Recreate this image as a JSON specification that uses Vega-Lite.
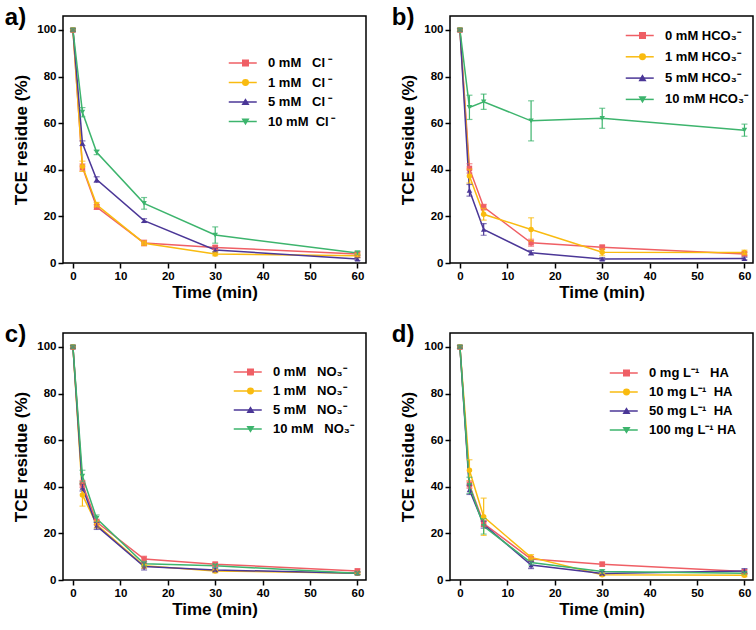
{
  "$schema": "https://vega.github.io/schema/vega-lite/v6.json",
  "padding": {"left": 4, "top": 5, "right": 0, "bottom": 0},
  "background": "white",
  "config": {
    "font": "Liberation Sans",
    "view": {"stroke": "black", "strokeWidth": 1.5},
    "axis": {"domain": false, "grid": false, "tickColor": "black", "tickWidth": 1.5, "tickSize": 5, "labelFont": "Liberation Sans", "labelFontSize": 11.5, "labelFontWeight": "bold", "labelColor": "black", "labelPadding": 2, "titleFont": "Liberation Sans", "titleFontSize": 17, "titleFontWeight": "bold", "titleColor": "black"},
    "axisX": {"titlePadding": 3},
    "axisY": {"titlePadding": 6},
    "title": {"font": "Liberation Sans", "fontSize": 24, "fontWeight": "bold", "color": "black", "anchor": "start", "frame": "bounds", "offset": 0, "dx": -8, "dy": 18},
    "legend": {"orient": "none", "title": null, "labelFont": "Liberation Sans", "labelFontSize": 13, "labelFontWeight": "bold", "labelColor": "black", "symbolStrokeWidth": 1.5, "padding": 0}
  },
  "datasets": {
    "a": [
      {"s": "\u20050 mM\u00a0\u00a0 Cl\u2009\u207b", "t": 0, "y": 100, "e": 0.5},
      {"s": "\u20050 mM\u00a0\u00a0 Cl\u2009\u207b", "t": 2, "y": 41, "e": 1.5},
      {"s": "\u20050 mM\u00a0\u00a0 Cl\u2009\u207b", "t": 5, "y": 24, "e": 1},
      {"s": "\u20050 mM\u00a0\u00a0 Cl\u2009\u207b", "t": 15, "y": 8.6, "e": 1.2},
      {"s": "\u20050 mM\u00a0\u00a0 Cl\u2009\u207b", "t": 30, "y": 6.7, "e": 0.8},
      {"s": "\u20050 mM\u00a0\u00a0 Cl\u2009\u207b", "t": 60, "y": 3.9, "e": 0.8},
      {"s": "\u20051 mM\u00a0\u00a0 Cl\u2009\u207b", "t": 0, "y": 100, "e": 0.5},
      {"s": "\u20051 mM\u00a0\u00a0 Cl\u2009\u207b", "t": 2, "y": 41.5, "e": 2.2},
      {"s": "\u20051 mM\u00a0\u00a0 Cl\u2009\u207b", "t": 5, "y": 25, "e": 1},
      {"s": "\u20051 mM\u00a0\u00a0 Cl\u2009\u207b", "t": 15, "y": 8.5, "e": 1},
      {"s": "\u20051 mM\u00a0\u00a0 Cl\u2009\u207b", "t": 30, "y": 3.9, "e": 0.8},
      {"s": "\u20051 mM\u00a0\u00a0 Cl\u2009\u207b", "t": 60, "y": 3.1, "e": 0.8},
      {"s": "\u20055 mM\u00a0\u00a0 Cl\u2009\u207b", "t": 0, "y": 100, "e": 0.5},
      {"s": "\u20055 mM\u00a0\u00a0 Cl\u2009\u207b", "t": 2, "y": 51.4, "e": 1},
      {"s": "\u20055 mM\u00a0\u00a0 Cl\u2009\u207b", "t": 5, "y": 35.8, "e": 1.2},
      {"s": "\u20055 mM\u00a0\u00a0 Cl\u2009\u207b", "t": 15, "y": 18.2, "e": 0.8},
      {"s": "\u20055 mM\u00a0\u00a0 Cl\u2009\u207b", "t": 30, "y": 5.6, "e": 0.8},
      {"s": "\u20055 mM\u00a0\u00a0 Cl\u2009\u207b", "t": 60, "y": 1.7, "e": 0.6},
      {"s": "10 mM\u00a0 Cl\u2009\u207b", "t": 0, "y": 100, "e": 0.5},
      {"s": "10 mM\u00a0 Cl\u2009\u207b", "t": 2, "y": 64.7, "e": 2},
      {"s": "10 mM\u00a0 Cl\u2009\u207b", "t": 5, "y": 47.5, "e": 1},
      {"s": "10 mM\u00a0 Cl\u2009\u207b", "t": 15, "y": 25.6, "e": 2.5},
      {"s": "10 mM\u00a0 Cl\u2009\u207b", "t": 30, "y": 12, "e": 3.5},
      {"s": "10 mM\u00a0 Cl\u2009\u207b", "t": 60, "y": 4.3, "e": 0.8}
    ],
    "b": [
      {"s": "\u20070 mM HCO\u2083\u207b", "t": 0, "y": 100, "e": 0.5},
      {"s": "\u20070 mM HCO\u2083\u207b", "t": 2, "y": 40.6, "e": 2},
      {"s": "\u20070 mM HCO\u2083\u207b", "t": 5, "y": 24, "e": 1.2},
      {"s": "\u20070 mM HCO\u2083\u207b", "t": 15, "y": 8.7, "e": 1.5},
      {"s": "\u20070 mM HCO\u2083\u207b", "t": 30, "y": 6.8, "e": 0.8},
      {"s": "\u20070 mM HCO\u2083\u207b", "t": 60, "y": 3.9, "e": 0.8},
      {"s": "\u20071 mM HCO\u2083\u207b", "t": 0, "y": 100, "e": 0.5},
      {"s": "\u20071 mM HCO\u2083\u207b", "t": 2, "y": 37.3, "e": 3},
      {"s": "\u20071 mM HCO\u2083\u207b", "t": 5, "y": 20.9, "e": 2.5},
      {"s": "\u20071 mM HCO\u2083\u207b", "t": 15, "y": 14.4, "e": 5},
      {"s": "\u20071 mM HCO\u2083\u207b", "t": 30, "y": 4.6, "e": 1.5},
      {"s": "\u20071 mM HCO\u2083\u207b", "t": 60, "y": 4.5, "e": 1},
      {"s": "\u20075 mM HCO\u2083\u207b", "t": 0, "y": 100, "e": 0.5},
      {"s": "\u20075 mM HCO\u2083\u207b", "t": 2, "y": 31.2, "e": 2.5},
      {"s": "\u20075 mM HCO\u2083\u207b", "t": 5, "y": 14.4, "e": 2.5},
      {"s": "\u20075 mM HCO\u2083\u207b", "t": 15, "y": 4.4, "e": 1},
      {"s": "\u20075 mM HCO\u2083\u207b", "t": 30, "y": 1.7, "e": 0.6},
      {"s": "\u20075 mM HCO\u2083\u207b", "t": 60, "y": 1.9, "e": 0.6},
      {"s": "10 mM HCO\u2083\u207b", "t": 0, "y": 100, "e": 0.5},
      {"s": "10 mM HCO\u2083\u207b", "t": 2, "y": 66.8, "e": 5.2},
      {"s": "10 mM HCO\u2083\u207b", "t": 5, "y": 69.2, "e": 3.3},
      {"s": "10 mM HCO\u2083\u207b", "t": 15, "y": 61, "e": 8.6},
      {"s": "10 mM HCO\u2083\u207b", "t": 30, "y": 62.1, "e": 4.3},
      {"s": "10 mM HCO\u2083\u207b", "t": 60, "y": 57, "e": 2.6}
    ],
    "c": [
      {"s": "\u20070 mM\u00a0\u00a0 NO\u2083\u207b", "t": 0, "y": 100, "e": 0.5},
      {"s": "\u20070 mM\u00a0\u00a0 NO\u2083\u207b", "t": 2, "y": 41.2, "e": 1.5},
      {"s": "\u20070 mM\u00a0\u00a0 NO\u2083\u207b", "t": 5, "y": 24.9, "e": 1.2},
      {"s": "\u20070 mM\u00a0\u00a0 NO\u2083\u207b", "t": 15, "y": 9, "e": 1.2},
      {"s": "\u20070 mM\u00a0\u00a0 NO\u2083\u207b", "t": 30, "y": 6.8, "e": 0.8},
      {"s": "\u20070 mM\u00a0\u00a0 NO\u2083\u207b", "t": 60, "y": 3.9, "e": 0.8},
      {"s": "\u20071 mM\u00a0\u00a0 NO\u2083\u207b", "t": 0, "y": 100, "e": 0.5},
      {"s": "\u20071 mM\u00a0\u00a0 NO\u2083\u207b", "t": 2, "y": 36.5, "e": 4.8},
      {"s": "\u20071 mM\u00a0\u00a0 NO\u2083\u207b", "t": 5, "y": 23.8, "e": 1.5},
      {"s": "\u20071 mM\u00a0\u00a0 NO\u2083\u207b", "t": 15, "y": 6.1, "e": 1},
      {"s": "\u20071 mM\u00a0\u00a0 NO\u2083\u207b", "t": 30, "y": 3.9, "e": 0.8},
      {"s": "\u20071 mM\u00a0\u00a0 NO\u2083\u207b", "t": 60, "y": 2.9, "e": 0.6},
      {"s": "\u20075 mM\u00a0\u00a0 NO\u2083\u207b", "t": 0, "y": 100, "e": 0.5},
      {"s": "\u20075 mM\u00a0\u00a0 NO\u2083\u207b", "t": 2, "y": 39.7, "e": 1.5},
      {"s": "\u20075 mM\u00a0\u00a0 NO\u2083\u207b", "t": 5, "y": 23.2, "e": 1.5},
      {"s": "\u20075 mM\u00a0\u00a0 NO\u2083\u207b", "t": 15, "y": 5.8, "e": 1.5},
      {"s": "\u20075 mM\u00a0\u00a0 NO\u2083\u207b", "t": 30, "y": 4.3, "e": 0.8},
      {"s": "\u20075 mM\u00a0\u00a0 NO\u2083\u207b", "t": 60, "y": 2.9, "e": 0.6},
      {"s": "10 mM\u00a0\u00a0 NO\u2083\u207b", "t": 0, "y": 100, "e": 0.5},
      {"s": "10 mM\u00a0\u00a0 NO\u2083\u207b", "t": 2, "y": 44.6, "e": 2.5},
      {"s": "10 mM\u00a0\u00a0 NO\u2083\u207b", "t": 5, "y": 26.4, "e": 1.5},
      {"s": "10 mM\u00a0\u00a0 NO\u2083\u207b", "t": 15, "y": 7, "e": 1},
      {"s": "10 mM\u00a0\u00a0 NO\u2083\u207b", "t": 30, "y": 6.1, "e": 0.8},
      {"s": "10 mM\u00a0\u00a0 NO\u2083\u207b", "t": 60, "y": 2.9, "e": 0.6}
    ],
    "d": [
      {"s": "\u2007\u20090 mg L\u207b\u00b9\u00a0\u00a0 HA", "t": 0, "y": 100, "e": 0.5},
      {"s": "\u2007\u20090 mg L\u207b\u00b9\u00a0\u00a0 HA", "t": 2, "y": 40.9, "e": 1.5},
      {"s": "\u2007\u20090 mg L\u207b\u00b9\u00a0\u00a0 HA", "t": 5, "y": 24.2, "e": 1.2},
      {"s": "\u2007\u20090 mg L\u207b\u00b9\u00a0\u00a0 HA", "t": 15, "y": 9, "e": 1},
      {"s": "\u2007\u20090 mg L\u207b\u00b9\u00a0\u00a0 HA", "t": 30, "y": 6.8, "e": 0.8},
      {"s": "\u2007\u20090 mg L\u207b\u00b9\u00a0\u00a0 HA", "t": 60, "y": 3.6, "e": 0.8},
      {"s": "\u200710 mg L\u207b\u00b9\u00a0 HA", "t": 0, "y": 100, "e": 0.5},
      {"s": "\u200710 mg L\u207b\u00b9\u00a0 HA", "t": 2, "y": 47.1, "e": 4.5},
      {"s": "\u200710 mg L\u207b\u00b9\u00a0 HA", "t": 5, "y": 27.1, "e": 8},
      {"s": "\u200710 mg L\u207b\u00b9\u00a0 HA", "t": 15, "y": 9.7, "e": 1.2},
      {"s": "\u200710 mg L\u207b\u00b9\u00a0 HA", "t": 30, "y": 2.3, "e": 0.6},
      {"s": "\u200710 mg L\u207b\u00b9\u00a0 HA", "t": 60, "y": 2, "e": 0.6},
      {"s": "\u200750 mg L\u207b\u00b9\u00a0 HA", "t": 0, "y": 100, "e": 0.5},
      {"s": "\u200750 mg L\u207b\u00b9\u00a0 HA", "t": 2, "y": 38.7, "e": 2},
      {"s": "\u200750 mg L\u207b\u00b9\u00a0 HA", "t": 5, "y": 23.8, "e": 1.5},
      {"s": "\u200750 mg L\u207b\u00b9\u00a0 HA", "t": 15, "y": 6.4, "e": 1.5},
      {"s": "\u200750 mg L\u207b\u00b9\u00a0 HA", "t": 30, "y": 2.8, "e": 0.8},
      {"s": "\u200750 mg L\u207b\u00b9\u00a0 HA", "t": 60, "y": 3.9, "e": 1},
      {"s": "100 mg L\u207b\u00b9 HA", "t": 0, "y": 100, "e": 0.5},
      {"s": "100 mg L\u207b\u00b9 HA", "t": 2, "y": 40.6, "e": 3.5},
      {"s": "100 mg L\u207b\u00b9 HA", "t": 5, "y": 23, "e": 3.3},
      {"s": "100 mg L\u207b\u00b9 HA", "t": 15, "y": 7.5, "e": 1},
      {"s": "100 mg L\u207b\u00b9 HA", "t": 30, "y": 3.6, "e": 0.8},
      {"s": "100 mg L\u207b\u00b9 HA", "t": 60, "y": 2.9, "e": 0.6}
    ]
  },
  "columns": 2,
  "spacing": {"row": 20, "column": 24},
  "resolve": {"scale": {"color": "independent", "shape": "independent", "stroke": "independent", "x": "independent", "y": "independent"}, "legend": {"color": "independent", "shape": "independent", "stroke": "independent"}},
  "concat": [
    {
      "data": {"name": "a"},
      "width": 303, "height": 247,
      "title": {"text": "a)"},
      "encoding": {
        "x": {"field": "t", "type": "quantitative", "scale": {"domain": [-2.1, 61.8], "nice": false, "zero": false}, "axis": {"values": [0, 10, 20, 30, 40, 50, 60], "title": "Time (min)"}},
        "y": {"field": "y", "type": "quantitative", "scale": {"domain": [0, 106], "nice": false}, "axis": {"values": [0, 20, 40, 60, 80, 100], "title": "TCE residue (%)"}}
      },
      "layer": [
        {"mark": {"type": "line", "strokeWidth": 1.5},
         "encoding": {"stroke": {"field": "s", "type": "nominal", "scale": {"domain": ["10 mM\u00a0 Cl\u2009\u207b", "\u20055 mM\u00a0\u00a0 Cl\u2009\u207b", "\u20051 mM\u00a0\u00a0 Cl\u2009\u207b", "\u20050 mM\u00a0\u00a0 Cl\u2009\u207b"], "range": ["#3db46d", "#4b3797", "#f9bb10", "#ef5f65"]},
           "legend": {"values": ["\u20050 mM\u00a0\u00a0 Cl\u2009\u207b", "\u20051 mM\u00a0\u00a0 Cl\u2009\u207b", "\u20055 mM\u00a0\u00a0 Cl\u2009\u207b", "10 mM\u00a0 Cl\u2009\u207b"], "labelExpr": "'\u00a0'", "legendX": 173.25, "legendY": 40.5, "symbolType": "M-2.8,0H2.8", "symbolSize": 100, "labelOpacity": 0, "rowPadding": 5.5}}}},
        {"mark": {"type": "point", "filled": true, "opacity": 1, "size": 30},
         "encoding": {
           "color": {"field": "s", "type": "nominal", "scale": {"domain": ["\u20050 mM\u00a0\u00a0 Cl\u2009\u207b", "\u20051 mM\u00a0\u00a0 Cl\u2009\u207b", "\u20055 mM\u00a0\u00a0 Cl\u2009\u207b", "10 mM\u00a0 Cl\u2009\u207b"], "range": ["#ef5f65", "#f9bb10", "#4b3797", "#3db46d"]},
             "legend": {"legendX": 176, "legendY": 40.5, "symbolSize": 30, "labelOffset": 16, "rowPadding": 5.5}},
           "shape": {"field": "s", "type": "nominal", "scale": {"domain": ["\u20050 mM\u00a0\u00a0 Cl\u2009\u207b", "\u20051 mM\u00a0\u00a0 Cl\u2009\u207b", "\u20055 mM\u00a0\u00a0 Cl\u2009\u207b", "10 mM\u00a0 Cl\u2009\u207b"], "range": ["square", "circle", "triangle-up", "triangle-down"]},
             "legend": {"legendX": 176, "legendY": 40.5, "symbolSize": 30, "labelOffset": 16, "rowPadding": 5.5}}
         }},
        {"mark": {"type": "errorbar", "ticks": {"size": 6}, "thickness": 1.2},
         "encoding": {"yError": {"field": "e"},
           "color": {"field": "s", "type": "nominal", "scale": {"domain": ["\u20050 mM\u00a0\u00a0 Cl\u2009\u207b", "\u20051 mM\u00a0\u00a0 Cl\u2009\u207b", "\u20055 mM\u00a0\u00a0 Cl\u2009\u207b", "10 mM\u00a0 Cl\u2009\u207b"], "range": ["#ef5f65", "#f9bb10", "#4b3797", "#3db46d"]},
             "legend": {"legendX": 176, "legendY": 40.5, "symbolSize": 30, "labelOffset": 16, "rowPadding": 5.5}}}}
      ]
    },
    {
      "data": {"name": "b"},
      "width": 303, "height": 247,
      "title": {"text": "b)"},
      "encoding": {
        "x": {"field": "t", "type": "quantitative", "scale": {"domain": [-2.1, 61.8], "nice": false, "zero": false}, "axis": {"values": [0, 10, 20, 30, 40, 50, 60], "title": "Time (min)"}},
        "y": {"field": "y", "type": "quantitative", "scale": {"domain": [0, 106], "nice": false}, "axis": {"values": [0, 20, 40, 60, 80, 100], "title": "TCE residue (%)"}}
      },
      "layer": [
        {"mark": {"type": "line", "strokeWidth": 1.5},
         "encoding": {"stroke": {"field": "s", "type": "nominal", "scale": {"domain": ["10 mM HCO\u2083\u207b", "\u20075 mM HCO\u2083\u207b", "\u20071 mM HCO\u2083\u207b", "\u20070 mM HCO\u2083\u207b"], "range": ["#3db46d", "#4b3797", "#f9bb10", "#ef5f65"]},
           "legend": {"values": ["\u20070 mM HCO\u2083\u207b", "\u20071 mM HCO\u2083\u207b", "\u20075 mM HCO\u2083\u207b", "10 mM HCO\u2083\u207b"], "labelExpr": "'\u00a0'", "legendX": 183.25, "legendY": 13, "symbolType": "M-2.8,0H2.8", "symbolSize": 100, "labelOpacity": 0, "rowPadding": 7.3}}}},
        {"mark": {"type": "point", "filled": true, "opacity": 1, "size": 30},
         "encoding": {
           "color": {"field": "s", "type": "nominal", "scale": {"domain": ["\u20070 mM HCO\u2083\u207b", "\u20071 mM HCO\u2083\u207b", "\u20075 mM HCO\u2083\u207b", "10 mM HCO\u2083\u207b"], "range": ["#ef5f65", "#f9bb10", "#4b3797", "#3db46d"]},
             "legend": {"legendX": 186, "legendY": 13, "symbolSize": 30, "labelOffset": 16, "rowPadding": 7.3}},
           "shape": {"field": "s", "type": "nominal", "scale": {"domain": ["\u20070 mM HCO\u2083\u207b", "\u20071 mM HCO\u2083\u207b", "\u20075 mM HCO\u2083\u207b", "10 mM HCO\u2083\u207b"], "range": ["square", "circle", "triangle-up", "triangle-down"]},
             "legend": {"legendX": 186, "legendY": 13, "symbolSize": 30, "labelOffset": 16, "rowPadding": 7.3}}
         }},
        {"mark": {"type": "errorbar", "ticks": {"size": 6}, "thickness": 1.2},
         "encoding": {"yError": {"field": "e"},
           "color": {"field": "s", "type": "nominal", "scale": {"domain": ["\u20070 mM HCO\u2083\u207b", "\u20071 mM HCO\u2083\u207b", "\u20075 mM HCO\u2083\u207b", "10 mM HCO\u2083\u207b"], "range": ["#ef5f65", "#f9bb10", "#4b3797", "#3db46d"]},
             "legend": {"legendX": 186, "legendY": 13, "symbolSize": 30, "labelOffset": 16, "rowPadding": 7.3}}}}
      ]
    },
    {
      "data": {"name": "c"},
      "width": 303, "height": 247,
      "title": {"text": "c)"},
      "encoding": {
        "x": {"field": "t", "type": "quantitative", "scale": {"domain": [-2.1, 61.8], "nice": false, "zero": false}, "axis": {"values": [0, 10, 20, 30, 40, 50, 60], "title": "Time (min)"}},
        "y": {"field": "y", "type": "quantitative", "scale": {"domain": [0, 106], "nice": false}, "axis": {"values": [0, 20, 40, 60, 80, 100], "title": "TCE residue (%)"}}
      },
      "layer": [
        {"mark": {"type": "line", "strokeWidth": 1.5},
         "encoding": {"stroke": {"field": "s", "type": "nominal", "scale": {"domain": ["10 mM\u00a0\u00a0 NO\u2083\u207b", "\u20075 mM\u00a0\u00a0 NO\u2083\u207b", "\u20071 mM\u00a0\u00a0 NO\u2083\u207b", "\u20070 mM\u00a0\u00a0 NO\u2083\u207b"], "range": ["#3db46d", "#4b3797", "#f9bb10", "#ef5f65"]},
           "legend": {"values": ["\u20070 mM\u00a0\u00a0 NO\u2083\u207b", "\u20071 mM\u00a0\u00a0 NO\u2083\u207b", "\u20075 mM\u00a0\u00a0 NO\u2083\u207b", "10 mM\u00a0\u00a0 NO\u2083\u207b"], "labelExpr": "'\u00a0'", "legendX": 178.25, "legendY": 32.5, "symbolType": "M-2.8,0H2.8", "symbolSize": 100, "labelOpacity": 0, "rowPadding": 5}}}},
        {"mark": {"type": "point", "filled": true, "opacity": 1, "size": 30},
         "encoding": {
           "color": {"field": "s", "type": "nominal", "scale": {"domain": ["\u20070 mM\u00a0\u00a0 NO\u2083\u207b", "\u20071 mM\u00a0\u00a0 NO\u2083\u207b", "\u20075 mM\u00a0\u00a0 NO\u2083\u207b", "10 mM\u00a0\u00a0 NO\u2083\u207b"], "range": ["#ef5f65", "#f9bb10", "#4b3797", "#3db46d"]},
             "legend": {"legendX": 181, "legendY": 32.5, "symbolSize": 30, "labelOffset": 16, "rowPadding": 5}},
           "shape": {"field": "s", "type": "nominal", "scale": {"domain": ["\u20070 mM\u00a0\u00a0 NO\u2083\u207b", "\u20071 mM\u00a0\u00a0 NO\u2083\u207b", "\u20075 mM\u00a0\u00a0 NO\u2083\u207b", "10 mM\u00a0\u00a0 NO\u2083\u207b"], "range": ["square", "circle", "triangle-up", "triangle-down"]},
             "legend": {"legendX": 181, "legendY": 32.5, "symbolSize": 30, "labelOffset": 16, "rowPadding": 5}}
         }},
        {"mark": {"type": "errorbar", "ticks": {"size": 6}, "thickness": 1.2},
         "encoding": {"yError": {"field": "e"},
           "color": {"field": "s", "type": "nominal", "scale": {"domain": ["\u20070 mM\u00a0\u00a0 NO\u2083\u207b", "\u20071 mM\u00a0\u00a0 NO\u2083\u207b", "\u20075 mM\u00a0\u00a0 NO\u2083\u207b", "10 mM\u00a0\u00a0 NO\u2083\u207b"], "range": ["#ef5f65", "#f9bb10", "#4b3797", "#3db46d"]},
             "legend": {"legendX": 181, "legendY": 32.5, "symbolSize": 30, "labelOffset": 16, "rowPadding": 5}}}}
      ]
    },
    {
      "data": {"name": "d"},
      "width": 303, "height": 247,
      "title": {"text": "d)"},
      "encoding": {
        "x": {"field": "t", "type": "quantitative", "scale": {"domain": [-2.1, 61.8], "nice": false, "zero": false}, "axis": {"values": [0, 10, 20, 30, 40, 50, 60], "title": "Time (min)"}},
        "y": {"field": "y", "type": "quantitative", "scale": {"domain": [0, 106], "nice": false}, "axis": {"values": [0, 20, 40, 60, 80, 100], "title": "TCE residue (%)"}}
      },
      "layer": [
        {"mark": {"type": "line", "strokeWidth": 1.5},
         "encoding": {"stroke": {"field": "s", "type": "nominal", "scale": {"domain": ["100 mg L\u207b\u00b9 HA", "\u200750 mg L\u207b\u00b9\u00a0 HA", "\u200710 mg L\u207b\u00b9\u00a0 HA", "\u2007\u20090 mg L\u207b\u00b9\u00a0\u00a0 HA"], "range": ["#3db46d", "#4b3797", "#f9bb10", "#ef5f65"]},
           "legend": {"values": ["\u2007\u20090 mg L\u207b\u00b9\u00a0\u00a0 HA", "\u200710 mg L\u207b\u00b9\u00a0 HA", "\u200750 mg L\u207b\u00b9\u00a0 HA", "100 mg L\u207b\u00b9 HA"], "labelExpr": "'\u00a0'", "legendX": 167.25, "legendY": 33.5, "symbolType": "M-2.8,0H2.8", "symbolSize": 100, "labelOpacity": 0, "rowPadding": 5}}}},
        {"mark": {"type": "point", "filled": true, "opacity": 1, "size": 30},
         "encoding": {
           "color": {"field": "s", "type": "nominal", "scale": {"domain": ["\u2007\u20090 mg L\u207b\u00b9\u00a0\u00a0 HA", "\u200710 mg L\u207b\u00b9\u00a0 HA", "\u200750 mg L\u207b\u00b9\u00a0 HA", "100 mg L\u207b\u00b9 HA"], "range": ["#ef5f65", "#f9bb10", "#4b3797", "#3db46d"]},
             "legend": {"legendX": 170, "legendY": 33.5, "symbolSize": 30, "labelOffset": 16, "rowPadding": 5}},
           "shape": {"field": "s", "type": "nominal", "scale": {"domain": ["\u2007\u20090 mg L\u207b\u00b9\u00a0\u00a0 HA", "\u200710 mg L\u207b\u00b9\u00a0 HA", "\u200750 mg L\u207b\u00b9\u00a0 HA", "100 mg L\u207b\u00b9 HA"], "range": ["square", "circle", "triangle-up", "triangle-down"]},
             "legend": {"legendX": 170, "legendY": 33.5, "symbolSize": 30, "labelOffset": 16, "rowPadding": 5}}
         }},
        {"mark": {"type": "errorbar", "ticks": {"size": 6}, "thickness": 1.2},
         "encoding": {"yError": {"field": "e"},
           "color": {"field": "s", "type": "nominal", "scale": {"domain": ["\u2007\u20090 mg L\u207b\u00b9\u00a0\u00a0 HA", "\u200710 mg L\u207b\u00b9\u00a0 HA", "\u200750 mg L\u207b\u00b9\u00a0 HA", "100 mg L\u207b\u00b9 HA"], "range": ["#ef5f65", "#f9bb10", "#4b3797", "#3db46d"]},
             "legend": {"legendX": 170, "legendY": 33.5, "symbolSize": 30, "labelOffset": 16, "rowPadding": 5}}}}
      ]
    }
  ]
}
